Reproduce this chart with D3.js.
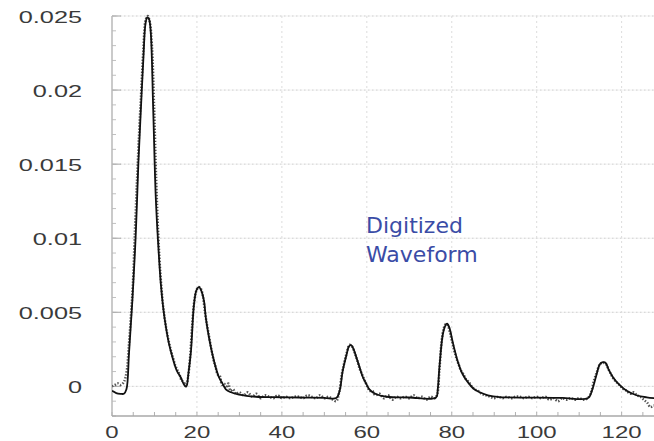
<!DOCTYPE html>
<html>
<head>
<meta charset="utf-8">
<script src="https://cdn.jsdelivr.net/npm/d3@7"></script>
<style>
  html, body { margin: 0; padding: 0; background: #fff; }
  svg { display: block; }
</style>
</head>
<body>
<svg id="chart" width="654" height="441"></svg>
<script>
// Time axis (sample index) and amplitude axis
const xTicks = [0, 20, 40, 60, 80, 100, 120];
const yTicks = [0, 0.005, 0.01, 0.015, 0.02, 0.025];
const yTickLabels = ["0", "0.005", "0.01", "0.015", "0.02", "0.025"];

// Fitted waveform (solid trace)
const fitT = [0, 1, 2, 2.8, 3.4, 4.0, 4.8, 5.6, 6.2, 6.8, 7.4, 7.9, 8.3, 8.7, 9.1, 9.7, 10.3, 10.9, 11.5, 12.1,
  12.7, 13.4, 14.2, 15.2, 16.2, 17.0, 17.5, 18.0, 18.6, 19.3, 19.9, 20.5, 21.1, 21.7, 22.1, 22.9, 23.7, 24.5,
  25.2, 26.0, 26.8, 28.0, 29.9, 33.9, 38, 41.7, 46, 50, 52.8, 53.6, 54.3, 55.2, 55.8, 56.3, 56.9, 57.6, 58.3,
  59.1, 60.0, 60.6, 62, 64.6, 70, 76.3, 76.7, 77.1, 77.9, 78.5, 78.9, 79.4, 80.3, 81.4, 82.6, 84.0, 85.3, 86.6,
  88.5, 91.3, 100, 106, 112.1, 113.0, 114.1, 114.9, 115.6, 116.2, 117.0, 118.0, 119.5, 121.2, 123.5, 125.9, 128];
const fitV = [-0.0003, -0.00045, -0.0005, -0.0005, -0.0002, 0.0022, 0.0058, 0.0103, 0.0150, 0.0187, 0.0222,
  0.0245, 0.0249, 0.0248, 0.0240, 0.0187, 0.0128, 0.0095, 0.0069, 0.0052, 0.0040, 0.0029, 0.0020, 0.0011,
  0.0006, 0.0001, 0.0000, 0.0009, 0.0024, 0.0055, 0.0065, 0.0067, 0.0064, 0.0057, 0.0046, 0.0032, 0.0021,
  0.0012, 0.0006, 0.0002, -0.0002, -0.0004, -0.00056, -0.0007, -0.00073, -0.00074, -0.00076, -0.00078,
  -0.00079, -0.0003, 0.0010, 0.0021, 0.0027, 0.00278, 0.0025, 0.0019, 0.0013, 0.0006, 0.0001, -0.0002,
  -0.0005, -0.0007, -0.00075, -0.00075, -0.0002, 0.0013, 0.0035, 0.0041, 0.00423, 0.0040, 0.0029, 0.0017,
  0.0008, 0.0002, -0.0002, -0.0004, -0.0006, -0.00072, -0.00076, -0.00078, -0.00079, -0.0003, 0.0008,
  0.0015, 0.00163, 0.0016, 0.0011, 0.0006, 0.0001, -0.0003, -0.0006, -0.00074, -0.0008];

// Digitized samples (dotted trace)
const sampT = [0, 0.7, 1.4, 2.1, 2.8, 3.4, 3.9, 4.4, 4.9, 5.4, 5.9, 6.4, 6.9, 7.4, 7.9, 8.4, 8.9, 9.4, 9.9, 10.4,
  10.9, 11.4, 11.9, 12.4, 12.9, 13.4, 13.9, 14.4, 14.9, 15.4, 15.9, 16.4, 16.9, 17.4, 17.9, 18.4, 18.9, 19.4,
  19.9, 20.4, 20.9, 21.4, 21.9, 22.4, 22.9, 23.4, 23.9, 24.4, 24.9, 25.4, 25.9, 26.4, 26.9, 27.4, 27.9, 28.5,
  29.2, 30, 31, 32, 33, 34, 35, 36, 37, 38, 39, 40, 41, 42, 43, 44, 45, 46, 47, 48, 49, 50, 51, 52, 52.8,
  53.5, 54.1, 54.7, 55.3, 55.9, 56.5, 57.1, 57.7, 58.3, 58.9, 59.5, 60.1, 60.7, 61.3, 62, 63, 64, 65, 66, 67,
  68, 69, 70, 71, 72, 73, 74, 75, 76, 76.6, 77.1, 77.6, 78.1, 78.6, 79.1, 79.6, 80.1, 80.6, 81.1, 81.6, 82.1,
  82.6, 83.3, 84, 84.7, 85.4, 86.2, 87, 88, 89, 90, 91, 92, 93, 94, 95, 96, 97, 98, 99, 100, 101, 102, 103,
  104, 105, 106, 107, 108, 109, 110, 111, 112, 112.8, 113.5, 114.2, 114.9, 115.6, 116.3, 117, 117.7, 118.4,
  119.1, 119.8, 120.5, 121.2, 122, 122.8, 123.6, 124.4, 125.2, 126, 126.8, 127.6, 128];
const sampV = [0.0000, 0.0001, 0.0002, 0.0001, 0.0003, 0.0009, 0.0025, 0.0045, 0.0068, 0.0105, 0.0140, 0.0172,
  0.0200, 0.0228, 0.0247, 0.0250, 0.0246, 0.0230, 0.0190, 0.0140, 0.0102, 0.0076, 0.0058, 0.0046, 0.0037,
  0.0030, 0.0024, 0.0019, 0.0014, 0.0011, 0.0008, 0.0004, 0.0003, 0.0000, 0.0006, 0.0020, 0.0042, 0.0058,
  0.0065, 0.0067, 0.0066, 0.0061, 0.0050, 0.0041, 0.0033, 0.0025, 0.0018, 0.0013, 0.0008, 0.0007, 0.0001,
  0.0002, -0.0001, 0.0002, -0.0003, -0.0002, -0.0005, -0.0004, -0.0006, -0.0004, -0.0007, -0.0005, -0.0008,
  -0.0006, -0.0007, -0.0008, -0.0006, -0.0008, -0.0007, -0.0008, -0.0007, -0.0007, -0.0008, -0.0006, -0.0007,
  -0.0008, -0.0006, -0.0008, -0.0007, -0.0009, -0.0010, -0.0004, 0.0008, 0.0016, 0.0023, 0.0028, 0.0027,
  0.0023, 0.0018, 0.0012, 0.0008, 0.0004, 0.0000, -0.0003, -0.0003, -0.0006, -0.0005, -0.0008, -0.0006,
  -0.0009, -0.0007, -0.0008, -0.0007, -0.0008, -0.0006, -0.0008, -0.0007, -0.0009, -0.0007, -0.0008, -0.0005,
  0.0011, 0.0030, 0.0039, 0.0042, 0.0041, 0.0036, 0.0030, 0.0024, 0.0019, 0.0015, 0.0011, 0.0009, 0.0005,
  0.0003, 0.0000, -0.0002, -0.0003, -0.0005, -0.0006, -0.0007, -0.0008, -0.0007, -0.0008, -0.0007, -0.0008,
  -0.0007, -0.0007, -0.0008, -0.0007, -0.0008, -0.0007, -0.0008, -0.0007, -0.0009, -0.0008, -0.0010, -0.0008,
  -0.0009, -0.0008, -0.0009, -0.0008, -0.0009, -0.0008, -0.0004, 0.0004, 0.0010, 0.0015, 0.0016, 0.0015,
  0.0011, 0.0007, 0.0004, 0.0002, 0.0000, -0.0002, -0.0003, -0.0005, -0.0004, -0.0006, -0.0007, -0.0009,
  -0.0011, -0.0014, -0.0013, -0.0015];

const annotation = ["Digitized", "Waveform"];

const svg = d3.select("#chart");
const x = d3.scaleLinear().domain([0, 128]).range([112, 655.6]);
const y = d3.scaleLinear().domain([-0.002, 0.025]).range([416, 16]);
const [x0, x1] = x.range();
const [yb, yt] = y.range();

// Grid
const grid = svg.append("g");
grid.selectAll("line.hf").data(yTicks).join("line")
  .attr("x1", x0).attr("x2", x1).attr("y1", d => y(d)).attr("y2", d => y(d))
  .attr("stroke", "#f1f1f1").attr("stroke-width", 1);
grid.selectAll("line.hd").data(yTicks).join("line")
  .attr("x1", x0).attr("x2", x1).attr("y1", d => y(d)).attr("y2", d => y(d))
  .attr("stroke", "#d2d2d2").attr("stroke-width", 1).attr("stroke-dasharray", "1.5,2.5");
grid.selectAll("line.v").data(xTicks.slice(1)).join("line")
  .attr("x1", d => x(d)).attr("x2", d => x(d)).attr("y1", yt).attr("y2", yb)
  .attr("stroke", "#dcdcdc").attr("stroke-width", 1).attr("stroke-dasharray", "2,3");

// Minor ticks
const yMinor = d3.range(-2, 26).map(k => k / 1000);
svg.append("g").selectAll("line").data(yMinor).join("line")
  .attr("x1", x0).attr("x2", x0 + 4).attr("y1", d => y(d)).attr("y2", d => y(d))
  .attr("stroke", "#c0c0c0").attr("stroke-width", 1);
svg.append("g").selectAll("line").data(yTicks).join("line")
  .attr("x1", x0).attr("x2", x0 + 9).attr("y1", d => y(d)).attr("y2", d => y(d))
  .attr("stroke", "#aaaaaa").attr("stroke-width", 1);
const xMinor = d3.range(0, 129, 5);
svg.append("g").selectAll("line").data(xMinor).join("line")
  .attr("x1", d => x(d)).attr("x2", d => x(d)).attr("y1", yb).attr("y2", yb - 4)
  .attr("stroke", "#b0b0b0").attr("stroke-width", 1);

// Axis lines
svg.append("line").attr("x1", x0).attr("x2", x0).attr("y1", yt).attr("y2", yb)
  .attr("stroke", "#b8b8b8").attr("stroke-width", 1.5);
svg.append("line").attr("x1", x0).attr("x2", x1).attr("y1", yb).attr("y2", yb)
  .attr("stroke", "#a8a8a8").attr("stroke-width", 1.5);

// Tick labels (wide face)
const labelFont = "'Liberation Sans', Arial, sans-serif";
svg.append("g").selectAll("text").data(yTicks).join("text")
  .attr("transform", d => `translate(82,${y(d) + 6.8}) scale(1.58,1)`)
  .attr("text-anchor", "end")
  .attr("font-family", labelFont).attr("font-size", 16).attr("fill", "#3a3a3a")
  .text((d, i) => yTickLabels[i]);
svg.append("g").selectAll("text").data(xTicks).join("text")
  .attr("transform", d => `translate(${x(d)},438) scale(1.5,1)`)
  .attr("text-anchor", "middle")
  .attr("font-family", labelFont).attr("font-size", 16).attr("fill", "#3a3a3a")
  .text(d => d);

// Traces
svg.append("clipPath").attr("id", "plot")
  .append("rect").attr("x", x0).attr("y", 0).attr("width", x1 - x0).attr("height", yb);
const line = d3.line().x(d => x(d[0])).y(d => y(d[1])).curve(d3.curveCatmullRom.alpha(0.5));
const samples = sampT.map((t, i) => [t, sampV[i]]);
const fit = fitT.map((t, i) => [t, fitV[i]]);

svg.append("path").datum(samples).attr("clip-path", "url(#plot)")
  .attr("d", line).attr("fill", "none")
  .attr("stroke", "#555").attr("stroke-width", 2.5).attr("stroke-dasharray", "1.4,1.6");
svg.append("path").datum(fit).attr("clip-path", "url(#plot)")
  .attr("d", line).attr("fill", "none")
  .attr("stroke", "#111").attr("stroke-width", 1.8).attr("stroke-linejoin", "round");

// Annotation
svg.append("g").selectAll("text").data(annotation).join("text")
  .attr("x", 366).attr("y", (d, i) => 233 + i * 29)
  .attr("font-family", "'DejaVu Sans', Verdana, sans-serif").attr("font-size", 22)
  .attr("fill", "#3a4ca6")
  .text(d => d);
</script>
</body>
</html>
